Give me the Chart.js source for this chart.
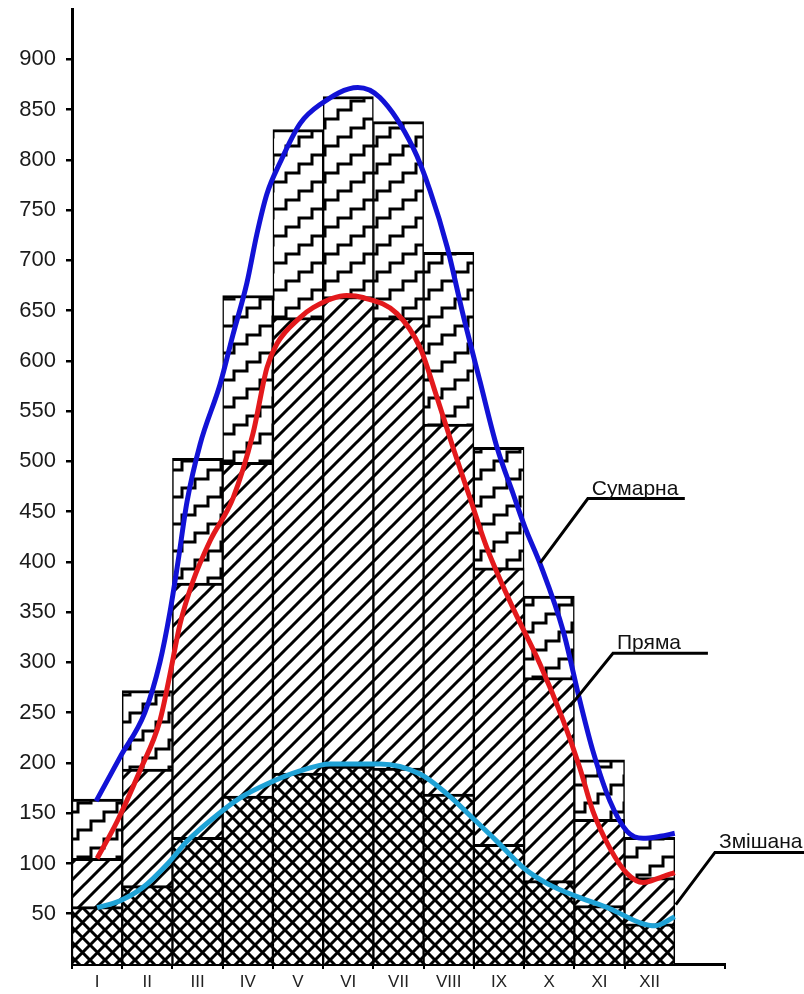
<!DOCTYPE html>
<html>
<head>
<meta charset="utf-8">
<title>Сонячна радіація по місяцях</title>
<script src="https://cdn.jsdelivr.net/npm/chart.js"></script>
<style>
  html, body { margin: 0; padding: 0; background: #fff; }
  canvas { display: block; }
</style>
</head>
<body>
<canvas id="radiationChart" width="804" height="994"></canvas>
<script>
// months (last slot is empty, it only stretches the x axis)
const months = ['I', 'II', 'III', 'IV', 'V', 'VI', 'VII', 'VIII', 'IX', 'X', 'XI', 'XII', ''];

// bar heights
const totalValues  = [164, 272, 503, 665, 830, 863, 838, 708, 514, 366, 203, 126, null];
const directValues = [105, 194, 379, 499, 643, 664, 643, 537, 394, 285, 144, 86, null];
const mixedValues  = [57, 78, 126, 167, 190, 197, 195, 169, 119, 83, 58, 40, null];

const yTicks = [50, 100, 150, 200, 250, 300, 350, 400, 450, 500, 550, 600, 650, 700, 750, 800, 850, 900];

// smoothed curves, x in month units (0 = left edge of I, 12 = right edge of XII)
const totalCurveX = [0.48, 0.96, 1.45, 1.75, 1.95, 2.11, 2.29, 2.55, 2.95, 3.21, 3.48, 3.68, 3.88, 4.14, 4.54, 4.94, 5.69, 6.13, 6.79, 7.13, 7.47, 7.78, 8.12, 8.46, 8.78, 9.02, 9.32, 9.78, 10.11, 10.37, 10.71, 11.05, 11.37, 11.71, 12.0];
const totalCurveY = [162, 206, 250, 300, 350, 400, 460, 517, 577, 627, 677, 726, 766, 797, 836, 855, 872, 862, 812, 769, 713, 647, 580, 514, 468, 434, 398, 331, 262, 212, 162, 132, 125, 127, 130];

const directCurveX = [0.5, 0.9, 1.35, 1.75, 1.95, 2.15, 2.41, 2.75, 3.21, 3.6, 3.88, 4.08, 4.54, 4.8, 5.47, 5.79, 6.47, 6.93, 7.27, 7.59, 7.92, 8.26, 8.78, 9.32, 9.78, 10.11, 10.37, 10.71, 11.05, 11.37, 11.71, 12.0];
const directCurveY = [105, 142, 192, 242, 288, 338, 381, 421, 464, 527, 593, 617, 643, 653, 665, 663, 647, 613, 563, 513, 464, 414, 354, 298, 242, 195, 152, 115, 90, 81, 86, 91];

const mixedCurveX = [0.5, 0.96, 1.41, 1.89, 2.29, 2.81, 3.34, 3.88, 4.54, 5.14, 6.13, 6.93, 7.47, 7.98, 8.46, 8.98, 9.46, 10.11, 10.71, 11.31, 11.61, 12.0];
const mixedCurveY = [56, 63, 76, 99, 122, 145, 165, 179, 192, 199, 199, 189, 169, 145, 122, 96, 80, 66, 55, 41, 38, 47];

const seriesNames = ['Сумарна', 'Пряма', 'Змішана'];

// callout layout: leader tip, elbow (in x2 / y units) and where the underline stops
const callouts = [
    { text: seriesNames[0], tip: [9.32, 399], elbow: [10.27, 463], end: 12.2 },
    { text: seriesNames[1], tip: [9.91, 256], elbow: [10.77, 309], end: 12.66 },
    { text: seriesNames[2], tip: [12.02, 59], elbow: [12.80, 111], end: 14.6 }
];

const FONT = '"Liberation Sans", Arial, sans-serif';
const canvas = document.getElementById('radiationChart');
const mainCtx = canvas.getContext('2d');

function makePattern(kind) {
    const tile = document.createElement('canvas');
    const c = tile.getContext('2d');
    if (kind === 'cross') {
        const s = 15;
        tile.width = s; tile.height = s;
        c.fillStyle = '#fff';
        c.fillRect(0, 0, s, s);
        c.strokeStyle = '#000';
        c.lineWidth = 3;
        c.beginPath();
        for (const k of [-s, 0, s]) {
            c.moveTo(-2, -2 + k); c.lineTo(s + 2, s + 2 + k);
            c.moveTo(-2, s + 2 + k); c.lineTo(s + 2, -2 + k);
        }
        c.stroke();
    } else if (kind === 'diag') {
        const s = 17;
        tile.width = s; tile.height = s;
        c.fillStyle = '#fff';
        c.fillRect(0, 0, s, s);
        c.strokeStyle = '#000';
        c.lineWidth = 3;
        c.beginPath();
        for (const k of [-s, 0, s]) {
            c.moveTo(-2, s + 2 + k); c.lineTo(s + 2, -2 + k);
        }
        c.stroke();
    } else {
        // stairs: steps 13 wide, 9 high, one stair line every 27px
        const w = 39, h = 27;
        tile.width = w; tile.height = h;
        c.fillStyle = '#fff';
        c.fillRect(0, 0, w, h);
        c.strokeStyle = '#000';
        c.lineWidth = 3;
        c.lineJoin = 'miter';
        for (const dy of [-h, 0, h, 2 * h]) {
            const y0 = 20 + dy;
            c.beginPath();
            c.moveTo(-13, y0 + 9);
            for (let j = -1; j <= 3; j++) {
                c.lineTo(13 * (j + 1), y0 - 9 * j);
                c.lineTo(13 * (j + 1), y0 - 9 * (j + 1));
            }
            c.stroke();
        }
    }
    return mainCtx.createPattern(tile, 'repeat');
}

const toPoints = (xs, ys) => xs.map((x, i) => ({ x: x, y: ys[i] }));

const calloutPlugin = {
    id: 'callouts',
    afterDatasetsDraw(chart) {
        const ctx = chart.ctx;
        const sx = chart.scales.x2;
        const sy = chart.scales.y;
        ctx.save();
        ctx.strokeStyle = '#000';
        ctx.lineWidth = 3;
        ctx.fillStyle = '#111';
        ctx.font = '21px ' + FONT;
        ctx.textBaseline = 'alphabetic';
        callouts.forEach(c => {
            const tx = sx.getPixelForValue(c.tip[0]);
            const ty = sy.getPixelForValue(c.tip[1]);
            const ex = sx.getPixelForValue(c.elbow[0]);
            const ey = sy.getPixelForValue(c.elbow[1]);
            const endX = sx.getPixelForValue(c.end);
            ctx.beginPath();
            ctx.moveTo(tx, ty);
            ctx.lineTo(ex, ey);
            ctx.lineTo(endX, ey);
            ctx.stroke();
            ctx.fillText(c.text, ex + 4, ey - 4);
        });
        ctx.restore();
    }
};

const barBase = {
    type: 'bar',
    xAxisID: 'x',
    yAxisID: 'y',
    grouped: false,
    barPercentage: 1,
    categoryPercentage: 1,
    borderColor: '#000',
    borderWidth: { top: 3, left: 1.5, right: 1.5, bottom: 0 },
    borderSkipped: 'start'
};

const lineBase = {
    type: 'line',
    xAxisID: 'x2',
    yAxisID: 'y',
    fill: false,
    pointRadius: 0,
    borderWidth: 5,
    cubicInterpolationMode: 'monotone'
};

new Chart(mainCtx, {
    type: 'bar',
    data: {
        labels: months,
        datasets: [
            Object.assign({}, lineBase, { label: seriesNames[0], data: toPoints(totalCurveX, totalCurveY), borderColor: '#1212d6', order: 1 }),
            Object.assign({}, lineBase, { label: seriesNames[1], data: toPoints(directCurveX, directCurveY), borderColor: '#e3191c', order: 0 }),
            Object.assign({}, lineBase, { label: seriesNames[2], data: toPoints(mixedCurveX, mixedCurveY), borderColor: '#1fa2d6', order: 2 }),
            Object.assign({}, barBase, { label: seriesNames[2], data: mixedValues, backgroundColor: makePattern('cross'), order: 3 }),
            Object.assign({}, barBase, { label: seriesNames[1], data: directValues, backgroundColor: makePattern('diag'), order: 4 }),
            Object.assign({}, barBase, { label: seriesNames[0], data: totalValues, backgroundColor: makePattern('stairs'), order: 5 })
        ]
    },
    options: {
        responsive: false,
        animation: false,
        layout: { padding: { top: 9, right: 79, left: 0, bottom: 0 } },
        plugins: {
            legend: { display: false },
            tooltip: { enabled: false }
        },
        scales: {
            x: {
                type: 'category',
                offset: true,
                grid: {
                    offset: true,
                    drawOnChartArea: false,
                    tickLength: 5,
                    lineWidth: 2,
                    // no tick at the far end of the stretched axis
                    color: ctx => (ctx.index >= months.length - 1 ? 'rgba(0,0,0,0)' : '#000')
                },
                border: { display: true, color: '#000', width: 3 },
                ticks: { color: '#222', font: { family: FONT, size: 17 }, padding: 3, maxRotation: 0, autoSkip: false },
                afterFit: s => { s.height = 30; s.paddingLeft = 0; s.paddingRight = 0; }
            },
            x2: { type: 'linear', min: 0, max: 13, offset: false, display: false },
            y: {
                min: 0,
                max: 950,
                afterBuildTicks: s => { s.ticks = yTicks.map(v => ({ value: v })); },
                grid: { drawOnChartArea: false, tickLength: 6, color: '#000', lineWidth: 2.5 },
                border: { display: true, color: '#000', width: 3 },
                ticks: { color: '#1a1a1a', font: { family: FONT, size: 22 }, padding: 10 },
                afterFit: s => { s.width = 72; s.paddingTop = 0; s.paddingBottom = 0; }
            }
        }
    },
    plugins: [calloutPlugin]
});
</script>
</body>
</html>
